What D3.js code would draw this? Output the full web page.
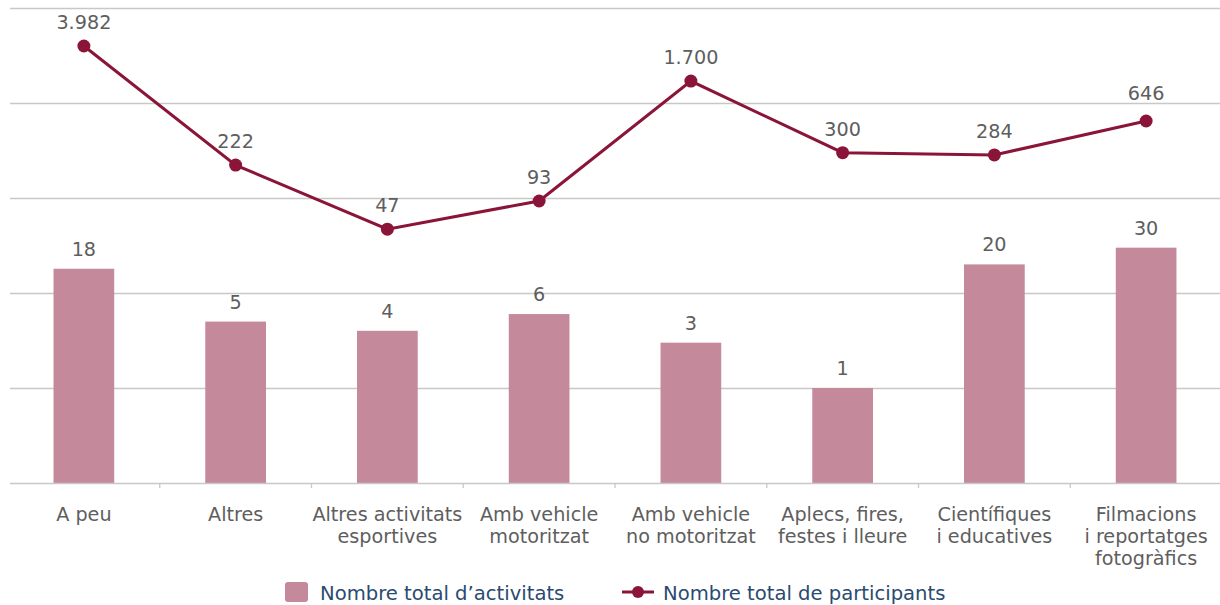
<!DOCTYPE html>
<html><head><meta charset="utf-8">
<script src="https://cdn.jsdelivr.net/npm/d3@7"></script>
<style>body{margin:0;background:#fff}svg{display:block}text{font-family:"DejaVu Sans",Verdana,sans-serif}</style>
</head><body><svg id="c" width="1220" height="605"></svg>
<script>
const categories = [["A peu"],["Altres"],["Altres activitats","esportives"],["Amb vehicle","motoritzat"],["Amb vehicle","no motoritzat"],["Aplecs, fires,","festes i lleure"],["Científiques","i educatives"],["Filmacions","i reportatges","fotogràfics"]];
const activitats = [18,5,4,6,3,1,20,30];
const participants = [3982,222,47,93,1700,300,284,646];
const gridValues = [0.1,1,10,100,1000,10000];
const legendLabels = ["Nombre total d’activitats","Nombre total de participants"];

(function(){
const svg = d3.select("#c");
const pLeft = 8, pRight = 1222, pTop = 8, pBottom = 483;
const FS = 19.2;
const x = d3.scaleBand().domain(d3.range(categories.length)).range([pLeft,pRight]).paddingInner(0.6).paddingOuter(0.3);
const y = d3.scaleLog().domain([0.1,10000]).range([pBottom,pTop]);
const fmt = v => d3.formatLocale({decimal:",",thousands:".",grouping:[3],currency:["","€"]}).format(",")(v);
const barColor = "#c4899a", lineColor = "#8b1538", textColor = "#5e5e5e", legendColor = "#2a4b70";

const gridY = gridValues.slice(1).map(d=>Math.round(y(d)));
svg.append("g").selectAll("line").data(gridY).join("line")
  .attr("x1",10).attr("x2",1220).attr("y1",d=>d+0.5).attr("y2",d=>d+0.5)
  .attr("stroke","#c8c8c8").attr("stroke-width",1.3);

svg.append("g").selectAll("rect").data(activitats).join("rect")
  .attr("x",(d,i)=>x(i)).attr("width",x.bandwidth())
  .attr("y",d=>y(d)).attr("height",d=>pBottom-y(d)).attr("fill",barColor);

const step = x.step();
svg.append("line").attr("x1",10).attr("x2",1220).attr("y1",pBottom+0.5).attr("y2",pBottom+0.5).attr("stroke","#c8c8c8").attr("stroke-width",1.5);
svg.append("g").selectAll("line").data(d3.range(1,categories.length)).join("line")
  .attr("x1",i=>x(i)+x.bandwidth()/2-step/2).attr("x2",i=>x(i)+x.bandwidth()/2-step/2)
  .attr("y1",pBottom).attr("y2",pBottom+5).attr("stroke","#c8c8c8").attr("stroke-width",1.3);

const xl = svg.append("g").selectAll("text").data(categories).join("text")
  .attr("x",(d,i)=>x(i)+x.bandwidth()/2).attr("y",521)
  .attr("text-anchor","middle").attr("fill",textColor).attr("font-size",FS);
xl.each(function(d){ const t=d3.select(this); const cx=t.attr("x");
  d.forEach((s,k)=>t.append("tspan").attr("x",cx).attr("dy",k?22:0).text(s)); });

svg.append("g").selectAll("text").data(activitats).join("text")
  .attr("x",(d,i)=>x(i)+x.bandwidth()/2).attr("y",d=>y(d)-13)
  .attr("text-anchor","middle").attr("fill",textColor).attr("font-size",FS).text(d=>fmt(d));

const cx = i => x(i)+x.bandwidth()/2;
svg.append("path").datum(participants)
  .attr("d",d3.line().x((d,i)=>cx(i)).y(d=>y(d)))
  .attr("fill","none").attr("stroke",lineColor).attr("stroke-width",3);
svg.append("g").selectAll("circle").data(participants).join("circle")
  .attr("cx",(d,i)=>cx(i)).attr("cy",d=>y(d)).attr("r",6.5).attr("fill",lineColor);
const labelY = d => { let b = y(d)-17; const g = gridY.find(gy => gy >= b-3 && gy <= b+4); return g!==undefined ? g-3 : b; };
svg.append("g").selectAll("text").data(participants).join("text")
  .attr("x",(d,i)=>cx(i)).attr("y",labelY)
  .attr("text-anchor","middle").attr("fill",textColor).attr("font-size",FS).text(d=>fmt(d));

const lg = svg.append("g");
lg.append("rect").attr("x",285).attr("y",582).attr("width",23).attr("height",20).attr("rx",3).attr("fill",barColor);
lg.append("text").attr("x",320).attr("y",600).attr("fill",legendColor).attr("font-size",19.6).text(legendLabels[0]);
lg.append("line").attr("x1",622).attr("x2",654).attr("y1",592).attr("y2",592).attr("stroke",lineColor).attr("stroke-width",3);
lg.append("circle").attr("cx",638).attr("cy",592).attr("r",6).attr("fill",lineColor);
lg.append("text").attr("x",663).attr("y",600).attr("fill",legendColor).attr("font-size",19.6).text(legendLabels[1]);
})();
</script></body></html>
